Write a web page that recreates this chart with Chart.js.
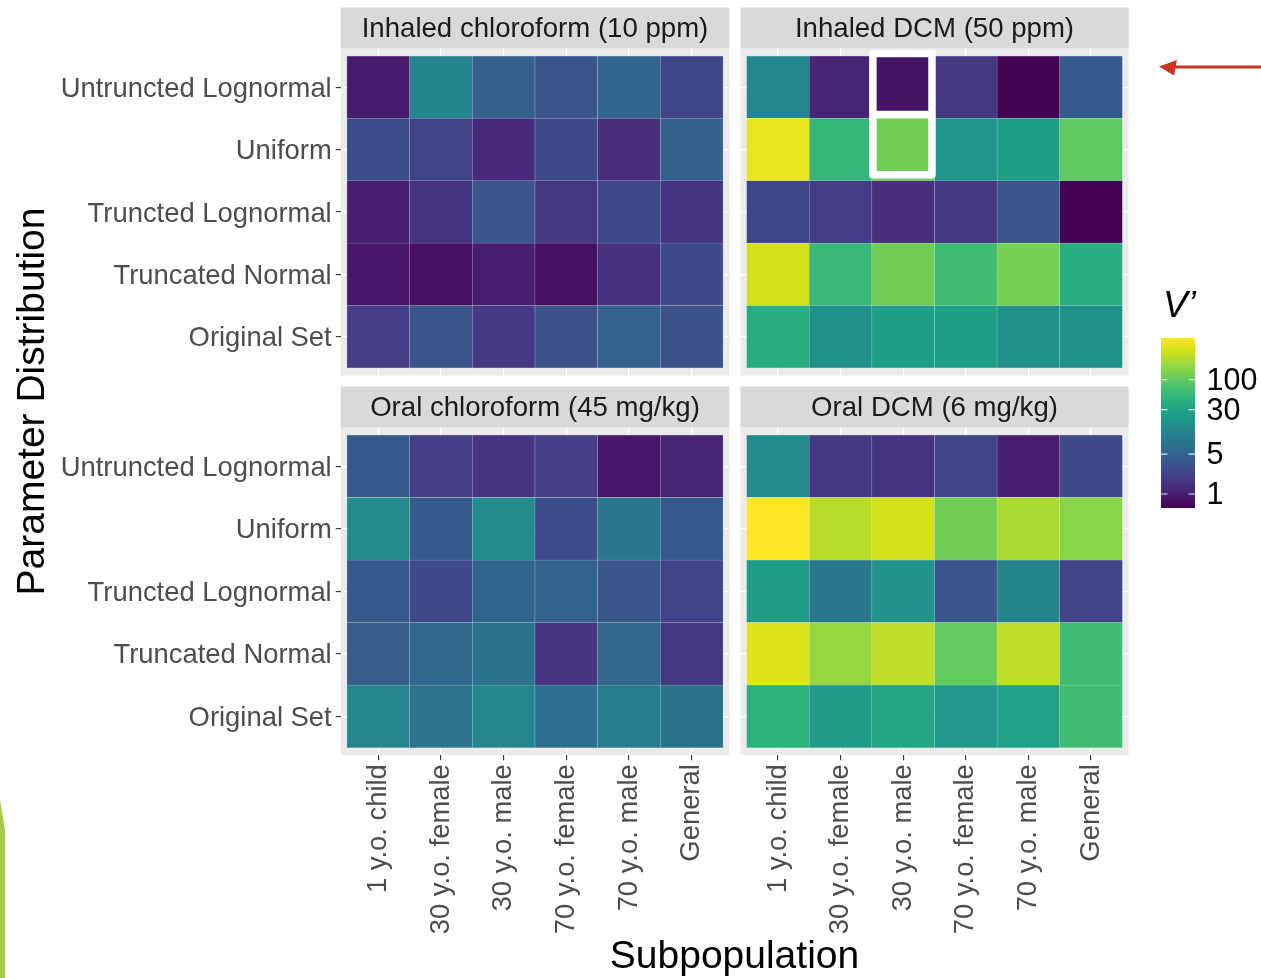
<!DOCTYPE html>
<html>
<head>
<meta charset="utf-8">
<title>V' by parameter distribution and subpopulation</title>
<script src="https://cdn.jsdelivr.net/npm/chart.js@4.4.1/dist/chart.umd.min.js"></script>
<style>
  html, body { margin: 0; padding: 0; background: #ffffff; }
  #wrap { position: relative; width: 1261px; height: 978px; overflow: hidden; background: #ffffff; }
  #wrap canvas { position: absolute; left: 0; top: 0; }
</style>
</head>
<body>
<div id="wrap">
  <canvas id="c0" width="1261" height="978"></canvas>
  <canvas id="c1" width="1261" height="978"></canvas>
  <canvas id="c2" width="1261" height="978"></canvas>
  <canvas id="c3" width="1261" height="978"></canvas>
</div>
<script>
// ---- categories ----
const subpopulations = ['1 y.o. child', '30 y.o. female', '30 y.o. male', '70 y.o. female', '70 y.o. male', 'General'];
const distributions = ['Untruncted Lognormal', 'Uniform', 'Truncted Lognormal', 'Truncated Normal', 'Original Set'];

// ---- V' values, one row per distribution, one column per subpopulation ----
const inhaledChloroform = [
  [0.92, 12.4, 4.4, 3.4, 5.1, 2.4],
  [2.9, 2.2, 1.3, 2.75, 1.4, 4.4],
  [0.98, 1.6, 3.4, 1.7, 2.6, 1.6],
  [0.86, 0.75, 0.98, 0.77, 1.5, 2.6],
  [1.95, 3.4, 1.8, 3.15, 4.75, 3.15]
];
const inhaledDCM = [
  [13.3, 1.13, 0.8, 1.7, 0.61, 3.9],
  [437, 52, 119, 20, 26, 97],
  [2.4, 1.95, 1.4, 1.7, 3.6, 0.57],
  [333, 56, 119, 64, 127, 42],
  [40, 17.5, 26, 26, 17.5, 17.5]
];
const oralChloroform = [
  [3.9, 1.95, 1.6, 1.95, 0.86, 1.13],
  [14.2, 3.9, 14.2, 2.9, 8.8, 3.9],
  [3.9, 2.6, 5.1, 4.75, 3.6, 2.2],
  [4.15, 5.8, 7.7, 1.6, 5.45, 1.7],
  [13.3, 8.2, 13.3, 7.2, 10.1, 7.7]
];
const oralDCM = [
  [14.2, 1.7, 1.6, 2.2, 0.98, 2.6],
  [537, 253, 333, 119, 220, 156],
  [24.6, 8.8, 18.7, 3.4, 12.4, 2.2],
  [381, 179, 271, 104, 271, 64],
  [45.6, 24.6, 32.4, 21.5, 28.2, 64]
];

// ---- colour bar tick labels ----
const legendTicks = [1, 5, 30, 100];

// ---- page geometry ----
const W = 1261, H = 978;
const FONT = '"Liberation Sans", Arial, Helvetica, sans-serif';
const TICK_SIZE = 27.4;
const geom = {
  colLeft: [340.7, 740.4],
  colRight: [729.3, 1128.6],
  rowTop: [48.5, 427.5],
  rowBottom: [375.5, 755.2],
  stripTop: [7.5, 386.5]
};

// ---- viridis colour map on a log10 scale ----
const viridisStops = ['#440154', '#48186a', '#472d7b', '#424086', '#3b528b', '#33638d', '#2c728e', '#26828e',
  '#21918c', '#1fa088', '#28ae80', '#3fbc73', '#5ec962', '#84d44b', '#addc30', '#d8e219', '#fde725'];
const stopRgb = viridisStops.map(h => [1, 3, 5].map(i => parseInt(h.slice(i, i + 2), 16)));

const allValues = [inhaledChloroform, inhaledDCM, oralChloroform, oralDCM].flat(2);
const vMin = Math.min(...allValues), vMax = Math.max(...allValues);
const logMin = Math.log10(vMin), logMax = Math.log10(vMax);
const tOf = v => Math.min(1, Math.max(0, (Math.log10(v) - logMin) / (logMax - logMin)));

function viridisRgb(t) {
  const p = t * (stopRgb.length - 1);
  const i = Math.min(stopRgb.length - 2, Math.floor(p));
  const f = p - i;
  return stopRgb[i].map((c, k) => c + (stopRgb[i + 1][k] - c) * f);
}
const rgbStr = c => `rgb(${c.map(Math.round).join(',')})`;
const fillFor = v => rgbStr(viridisRgb(tOf(v)));
const edgeFor = v => rgbStr(viridisRgb(tOf(v)).map(c => c + (255 - c) * 0.55));

// ---- panel background and facet strip ----
const panelFrame = {
  id: 'panelFrame',
  beforeDraw(chart, args, opts) {
    const { ctx, chartArea: a } = chart;
    ctx.save();
    ctx.fillStyle = '#ebebeb';
    ctx.fillRect(a.left, a.top, a.right - a.left, a.bottom - a.top);
    ctx.fillStyle = '#d9d9d9';
    ctx.fillRect(a.left, opts.stripTop, a.right - a.left, a.top - opts.stripTop);
    ctx.fillStyle = '#1a1a1a';
    ctx.font = `27.6px ${FONT}`;
    ctx.textAlign = 'center';
    ctx.textBaseline = 'middle';
    ctx.fillText(opts.title, (a.left + a.right) / 2, (opts.stripTop + a.top) / 2 + 1.5);
    ctx.restore();
  }
};

// ---- white box around the 30 y.o. male column, top two rows ----
const cellHighlight = {
  id: 'cellHighlight',
  afterDatasetsDraw(chart, args, opts) {
    if (!opts.col && opts.col !== 0) return;
    const { ctx, scales: { x, y } } = chart;
    const x0 = x.getPixelForValue(opts.col - 0.5) + 1;
    const x1 = x.getPixelForValue(opts.col + 0.5) - 2.5;
    const y0 = y.getPixelForValue(opts.rows[0] - 0.5) - 2.5;
    const y1 = y.getPixelForValue(opts.rows[1] + 0.5) - 6;
    const ym = y.getPixelForValue(opts.rows[0] + 0.5) - 4;
    ctx.save();
    ctx.strokeStyle = '#ffffff';
    ctx.lineWidth = 7.5;
    ctx.lineJoin = 'round';
    ctx.strokeRect(x0, y0, x1 - x0, y1 - y0);
    ctx.beginPath();
    ctx.moveTo(x0, ym);
    ctx.lineTo(x1, ym);
    ctx.stroke();
    ctx.restore();
  }
};

// ---- axis titles, colour bar, arrow ----
const pageOverlay = {
  id: 'pageOverlay',
  afterDraw(chart) {
    const ctx = chart.ctx;
    ctx.save();

    // axis titles
    ctx.fillStyle = '#000000';
    ctx.font = `39px ${FONT}`;
    ctx.textAlign = 'center';
    ctx.textBaseline = 'alphabetic';
    ctx.fillText('Subpopulation', 734.5, 968);
    ctx.save();
    ctx.translate(43.5, 401.5);
    ctx.rotate(-Math.PI / 2);
    ctx.fillText('Parameter Distribution', 0, 0);
    ctx.restore();

    // colour bar
    const bx = 1161, bw = 34, byTop = 338, byBot = 508;
    const grad = ctx.createLinearGradient(0, byBot, 0, byTop);
    viridisStops.forEach((c, i) => grad.addColorStop(i / (viridisStops.length - 1), c));
    ctx.fillStyle = grad;
    ctx.fillRect(bx, byTop, bw, byBot - byTop);
    ctx.strokeStyle = 'rgba(255,255,255,0.85)';
    ctx.lineWidth = 1.1;
    ctx.fillStyle = '#000000';
    ctx.font = `30.5px ${FONT}`;
    ctx.textAlign = 'left';
    ctx.textBaseline = 'middle';
    legendTicks.forEach(v => {
      const yy = byBot - tOf(v) * (byBot - byTop);
      ctx.beginPath();
      ctx.moveTo(bx, yy); ctx.lineTo(bx + 6.5, yy);
      ctx.moveTo(bx + bw - 6.5, yy); ctx.lineTo(bx + bw, yy);
      ctx.stroke();
      ctx.fillText(String(v), 1206.5, yy + 2);
    });
    ctx.font = `italic 37px ${FONT}`;
    ctx.textBaseline = 'alphabetic';
    ctx.fillText('V\u2019', 1163, 317);

    // arrow
    ctx.strokeStyle = '#c8361f';
    ctx.fillStyle = '#c8361f';
    ctx.lineWidth = 3;
    ctx.beginPath();
    ctx.moveTo(1261, 67); ctx.lineTo(1172, 67);
    ctx.stroke();
    ctx.beginPath();
    ctx.moveTo(1159, 66.5); ctx.lineTo(1177, 60); ctx.lineTo(1174, 75.5);
    ctx.closePath();
    ctx.fill();

    // green edge at the lower left
    ctx.fillStyle = '#a4c94b';
    ctx.beginPath();
    ctx.moveTo(0, 800); ctx.lineTo(5, 830); ctx.lineTo(5, H); ctx.lineTo(0, H);
    ctx.closePath();
    ctx.fill();

    ctx.restore();
  }
};

const panels = [
  { id: 'c0', title: 'Inhaled chloroform (10 ppm)', values: inhaledChloroform, col: 0, row: 0 },
  { id: 'c1', title: 'Inhaled DCM (50 ppm)', values: inhaledDCM, col: 1, row: 0, highlight: { col: 2, rows: [0, 1] } },
  { id: 'c2', title: 'Oral chloroform (45 mg/kg)', values: oralChloroform, col: 0, row: 1 },
  { id: 'c3', title: 'Oral DCM (6 mg/kg)', values: oralDCM, col: 1, row: 1, overlay: true }
];

function makePanel(p) {
  const L = geom.colLeft[p.col], R = geom.colRight[p.col];
  const T = geom.rowTop[p.row], B = geom.rowBottom[p.row];
  const showY = p.col === 0, showX = p.row === 1;
  const xAxisH = showX ? 200 : 0;

  const cells = [];
  p.values.forEach((row, r) => row.forEach((v, c) => cells.push({ x: c, y: [r - 0.5, r + 0.5], v })));

  const gridOpts = show => ({
    offset: false,
    color: '#ffffff', lineWidth: 1.2,
    drawTicks: show, tickLength: 5, tickColor: '#333333', tickWidth: 1.1
  });
  const tickFont = { family: FONT, size: TICK_SIZE };

  const pluginList = [panelFrame];
  if (p.highlight) pluginList.push(cellHighlight);
  if (p.overlay) pluginList.push(pageOverlay);

  return new Chart(document.getElementById(p.id), {
    type: 'bar',
    data: {
      datasets: [{
        data: cells,
        backgroundColor: ctx => fillFor(ctx.raw.v),
        borderColor: ctx => edgeFor(ctx.raw.v),
        borderWidth: 0.5,
        borderSkipped: false,
        barPercentage: 1,
        categoryPercentage: 1
      }]
    },
    options: {
      responsive: false,
      animation: false,
      events: [],
      devicePixelRatio: 1,
      layout: { padding: { left: showY ? 0 : L, right: W - R, top: T, bottom: H - B - xAxisH } },
      plugins: {
        legend: { display: false },
        tooltip: { enabled: false },
        panelFrame: { title: p.title, stripTop: geom.stripTop[p.row] },
        cellHighlight: p.highlight || {}
      },
      scales: {
        x: {
          type: 'linear', min: -0.6, max: 5.6, bounds: 'data', offset: false,
          afterBuildTicks: s => { s.ticks = subpopulations.map((_, i) => ({ value: i })); },
          afterFit: s => { s.height = xAxisH; },
          grid: gridOpts(showX),
          border: { display: false },
          ticks: {
            display: showX, autoSkip: false, minRotation: 90, maxRotation: 90, padding: 4,
            color: '#4d4d4d', font: tickFont, callback: v => subpopulations[v]
          }
        },
        y: {
          type: 'linear', reverse: true, min: -0.62, max: 4.62, bounds: 'data',
          afterBuildTicks: s => { s.ticks = distributions.map((_, i) => ({ value: i })); },
          afterFit: s => { s.width = showY ? L : 0; },
          grid: gridOpts(showY),
          border: { display: false },
          ticks: {
            display: showY, autoSkip: false, padding: 4, labelOffset: 2,
            color: '#4d4d4d', font: tickFont, callback: v => distributions[v]
          }
        }
      }
    },
    plugins: pluginList
  });
}

panels.forEach(makePanel);
</script>
</body>
</html>
